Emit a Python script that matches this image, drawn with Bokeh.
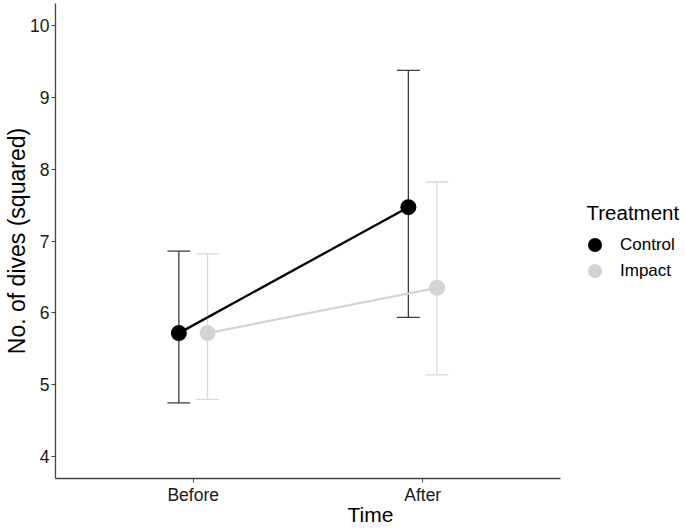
from bokeh.plotting import figure
from bokeh.models import ColumnDataSource, Legend, LegendItem, FixedTicker, Range1d, Label
from bokeh.embed import file_html
from bokeh.resources import INLINE

# ---- data ----
times = ["Before", "After"]
treatments = ["Control", "Impact"]
control_mean = [5.72, 7.47]
control_lower = [4.75, 5.94]
control_upper = [6.86, 9.37]
impact_mean = [5.72, 6.35]
impact_lower = [4.80, 5.14]
impact_upper = [6.82, 7.82]
y_ticks = [4, 5, 6, 7, 8, 9, 10]

# ---- style ----
FONT = "Liberation Sans"
point_colors = {"Control": "#000000", "Impact": "#d3d3d3"}
bar_colors = {"Control": "#3c3c3c", "Impact": "#d9d9d9"}
dodge = {"Control": -0.0625, "Impact": 0.0625}
cap_half = 0.05

p = figure(width=685, height=528, output_backend="svg", toolbar_location=None,
           x_range=Range1d(0.4, 3.145), y_range=Range1d(3.7, 10.3),
           min_border_left=55, min_border_right=0, min_border_top=3,
           min_border_bottom=50)
p.outline_line_color = None
p.xgrid.visible = False
p.ygrid.visible = False

series = {
    "Control": (control_mean, control_lower, control_upper),
    "Impact": (impact_mean, impact_lower, impact_upper),
}

# error bars
for t in treatments:
    m, lo, up = series[t]
    xs = [i + 1 + dodge[t] for i in range(len(times))]
    src = ColumnDataSource(dict(
        x=xs, lo=lo, up=up,
        xl=[x - cap_half for x in xs], xr=[x + cap_half for x in xs]))
    p.segment(x0="x", y0="lo", x1="x", y1="up", source=src,
              line_color=bar_colors[t], line_width=1.3)
    p.segment(x0="xl", y0="up", x1="xr", y1="up", source=src,
              line_color=bar_colors[t], line_width=1.3)
    p.segment(x0="xl", y0="lo", x1="xr", y1="lo", source=src,
              line_color=bar_colors[t], line_width=1.3)

lines = {}
for t in treatments:
    m, lo, up = series[t]
    xs = [i + 1 + dodge[t] for i in range(len(times))]
    lines[t] = p.line(xs, m, line_color=point_colors[t], line_width=2.3)

pts = {}
for t in treatments:
    m, lo, up = series[t]
    xs = [i + 1 + dodge[t] for i in range(len(times))]
    pts[t] = p.scatter(xs, m, size=16, fill_color=point_colors[t],
                       line_color=point_colors[t], line_width=0)

# axes
p.xaxis.ticker = FixedTicker(ticks=[1, 2])
p.xaxis.major_label_overrides = {i + 1: t for i, t in enumerate(times)}
p.xaxis.bounds = (0.4, 2.6)
p.yaxis.ticker = FixedTicker(ticks=y_ticks)
for ax in (p.xaxis, p.yaxis):
    ax.axis_line_color = "#444444"
    ax.axis_line_width = 1.3
    ax.major_tick_line_color = "#444444"
    ax.major_tick_line_width = 1.0
    ax.major_tick_out = 4
    ax.major_tick_in = 0
    ax.minor_tick_line_color = None
    ax.major_label_text_font = FONT
    ax.major_label_text_font_size = "17.5px"
    ax.major_label_text_color = "#1a1a1a"
    ax.axis_label_text_font = FONT
    ax.axis_label_text_font_style = "normal"
    ax.axis_label_text_color = "#000000"
    ax.major_label_standoff = 2
p.yaxis.axis_label_standoff = -3
p.xaxis.axis_label_standoff = -5
p.xaxis.axis_label = "Time"
p.yaxis.axis_label = "No. of dives (squared)"
p.xaxis.axis_label_text_font_size = "21px"
p.yaxis.axis_label_text_font_size = "23px"

# legend: one single-item legend per row
legend_rows = [("Control", 216), ("Impact", 190)]
for name, ypos in legend_rows:
    lg = Legend(items=[LegendItem(label=name, renderers=[pts[name]])],
                location=(522, ypos))
    lg.label_text_font = FONT
    lg.label_text_font_size = "17px"
    lg.label_text_color = "#000000"
    lg.glyph_width = 35
    lg.glyph_height = 35
    lg.label_standoff = 8
    lg.padding = 0
    lg.margin = 0
    lg.border_line_color = None
    lg.background_fill_alpha = 0
    p.add_layout(lg, "center")

title = Label(x=531, y=266, x_units="screen", y_units="screen",
              text="Treatment", text_font=FONT, text_font_size="20.5px",
              text_baseline="middle", text_align="left", text_color="#000000")
p.add_layout(title)

open("out.html", "w").write(file_html(p, INLINE))
